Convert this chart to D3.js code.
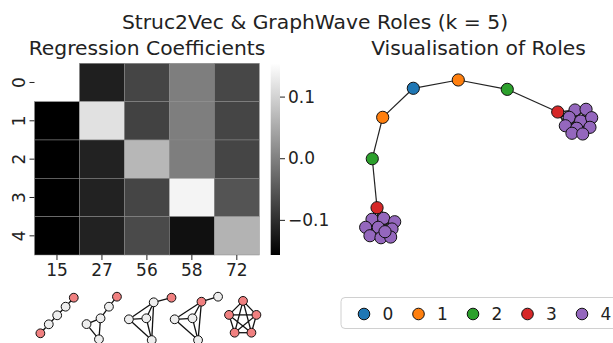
<!DOCTYPE html>
<html>
<head>
<meta charset="utf-8">
<script src="https://cdn.jsdelivr.net/npm/d3@7"></script>
<style>
  body { margin: 0; background: #fff; }
  svg { display: block; font-family: "DejaVu Sans", sans-serif; }
  .tick text { fill: #222; }
  .tick line { stroke: #222; stroke-width: 1; }
</style>
</head>
<body>
<div id="chart"></div>
<script>
// heatmap data: rows = roles, columns = motif ids
const motifs = ['15', '27', '56', '58', '72'];
const roles = ['0', '1', '2', '3', '4'];
const coefRole0 = [null, -0.119, -0.073, -0.003, -0.070];
const coefRole1 = [-0.157, 0.117, -0.077, -0.003, -0.073];
const coefRole2 = [-0.157, -0.116, 0.066, -0.003, -0.073];
const coefRole3 = [-0.157, -0.116, -0.073, 0.140, -0.055];
const coefRole4 = [-0.157, -0.116, -0.067, -0.138, 0.061];
const coefRows = [coefRole0, coefRole1, coefRole2, coefRole3, coefRole4];
const colorbarTicks = [-0.1, 0.0, 0.1];
const colorDomain = [-0.157, 0.154];

// role graph: layout coordinates (spring layout units) and role of each node
const nodeIds = ['a', 'b', 'c', 'd', 'e', 'f', 'g',
  'p0', 'p1', 'p2', 'p3', 'p4', 'p5', 'p6', 'p7', 'p8', 'p9',
  'q0', 'q1', 'q2', 'q3', 'q4', 'q5', 'q6', 'q7', 'q8', 'q9'];
const nodeRole = [0, 1, 1, 2, 2, 3, 3,
  4, 4, 4, 4, 4, 4, 4, 4, 4, 4,
  4, 4, 4, 4, 4, 4, 4, 4, 4, 4];
const layoutX = [-0.524, -0.157, -0.774, 0.243, -0.859, 0.655, -0.820,
  -0.861, -0.766, -0.676, -0.913, -0.810, -0.698, -0.878, -0.788, -0.709, -0.755,
  0.796, 0.886, 0.749, 0.842, 0.932, 0.717, 0.810, 0.918, 0.771, 0.859];
const layoutY = [0.791, 0.886, 0.459, 0.779, -0.014, 0.520, -0.574,
  -0.706, -0.695, -0.734, -0.798, -0.798, -0.817, -0.894, -0.917, -0.909, -0.848,
  0.543, 0.551, 0.459, 0.417, 0.455, 0.363, 0.334, 0.345, 0.277, 0.269];
const chainEdges = [['g', 'e'], ['e', 'c'], ['c', 'a'], ['a', 'b'], ['b', 'd'], ['d', 'f']];
const cliqueP = ['g', 'p0', 'p1', 'p2', 'p3', 'p4', 'p5', 'p6', 'p7', 'p8', 'p9'];
const cliqueQ = ['f', 'q0', 'q1', 'q2', 'q3', 'q4', 'q5', 'q6', 'q7', 'q8', 'q9'];

// small motif drawings under the heatmap (local layout units, y up)
const motif15 = { x: [-0.83, -0.41, 0.01, 0.43, 0.84], y: [-0.74, -0.29, 0.16, 0.59, 1.04],
  hot: [1, 0, 0, 0, 1], edges: [[0, 1], [1, 2], [2, 3], [3, 4]] };
const motif27 = { x: [0.75, 0.35, -0.07, -0.77, -0.15], y: [1.09, 0.59, 0.01, -0.28, -1.04],
  hot: [1, 0, 0, 0, 0], edges: [[0, 1], [1, 2], [2, 3], [2, 4], [3, 4]] };
const motif56 = { x: [0.34, 1.23, -0.90, -0.03, 0.24], y: [0.81, 1.04, -0.04, 0.01, -1.08],
  hot: [0, 1, 0, 0, 0], edges: [[0, 1], [0, 2], [0, 3], [0, 4], [2, 3], [2, 4], [3, 4]] };
const motif58 = { x: [0.48, 1.31, -0.86, 0.03, 0.31], y: [0.84, 1.09, -0.04, 0.01, -1.08],
  hot: [1, 0, 0, 0, 0], edges: [[0, 1], [0, 2], [0, 3], [0, 4], [2, 3], [2, 4], [3, 4]] };
const motif72 = { x: [0.31, -0.39, 0.98, -0.11, 0.73], y: [0.88, 0.18, 0.18, -0.71, -0.71],
  hot: [1, 1, 1, 1, 1], edges: [[0, 1], [0, 2], [0, 3], [0, 4], [1, 2], [1, 3], [1, 4], [2, 3], [2, 4], [3, 4]] };
const motifShapes = [motif15, motif27, motif56, motif58, motif72];

const W = 613, H = 343;
const svg = d3.select('#chart').append('svg').attr('width', W).attr('height', H);

// titles
svg.append('text').attr('x', 315).attr('y', 29).attr('text-anchor', 'middle')
  .attr('font-size', 20.3).attr('fill', '#222').text('Struc2Vec & GraphWave Roles (k = 5)');
svg.append('text').attr('x', 147).attr('y', 55).attr('text-anchor', 'middle')
  .attr('font-size', 20.3).attr('fill', '#222').text('Regression Coefficients');
svg.append('text').attr('x', 478.5).attr('y', 55).attr('text-anchor', 'middle')
  .attr('font-size', 20.3).attr('fill', '#222').text('Visualisation of Roles');

// ---- heatmap ----
const x = d3.scaleBand().domain(motifs).range([34.5, 259.3]);
const y = d3.scaleBand().domain(roles).range([63.3, 255]);
const color = d3.scaleLinear().domain(colorDomain).range(['#000', '#fff']).clamp(true);

const cells = [];
coefRows.forEach((row, i) => row.forEach((v, j) => {
  if (v !== null) cells.push({ role: roles[i], motif: motifs[j], v });
}));

svg.append('g').selectAll('rect').data(cells).enter().append('rect')
  .attr('x', d => x(d.motif))
  .attr('y', d => y(d.role))
  .attr('width', x.bandwidth())
  .attr('height', y.bandwidth())
  .attr('fill', d => color(d.v))
  .attr('stroke', '#8a8a8a')
  .attr('stroke-width', 0.5);

const xAxis = svg.append('g').attr('transform', 'translate(0,255)')
  .call(d3.axisBottom(x).tickSize(5).tickPadding(4));
xAxis.select('.domain').remove();
xAxis.selectAll('text').attr('font-size', 17).attr('font-family', 'DejaVu Sans');

const yAxis = svg.append('g').attr('transform', 'translate(34.5,0)')
  .call(d3.axisLeft(y).tickSize(5));
yAxis.select('.domain').remove();
yAxis.selectAll('text')
  .attr('font-size', 17).attr('font-family', 'DejaVu Sans')
  .attr('x', 0).attr('y', -9.5).attr('dy', 0)
  .attr('text-anchor', 'middle')
  .attr('transform', 'rotate(-90)');

// colorbar
const cb = d3.scaleLinear().domain(colorDomain).range([255, 63.3]);
const grad = svg.append('defs').append('linearGradient').attr('id', 'cbgrad')
  .attr('x1', 0).attr('y1', 1).attr('x2', 0).attr('y2', 0);
grad.append('stop').attr('offset', 0).attr('stop-color', color(colorDomain[0]));
grad.append('stop').attr('offset', 1).attr('stop-color', color(colorDomain[1]));
svg.append('rect').attr('x', 270.7).attr('y', cb(colorDomain[1]))
  .attr('width', 9.3).attr('height', cb(colorDomain[0]) - cb(colorDomain[1]))
  .attr('fill', 'url(#cbgrad)');
const cbAxis = svg.append('g').attr('transform', 'translate(280,0)')
  .call(d3.axisRight(cb).tickValues(colorbarTicks).tickFormat(d3.format('.1f')).tickSize(5).tickPadding(3));
cbAxis.select('.domain').remove();
cbAxis.selectAll('text').attr('font-size', 17).attr('font-family', 'DejaVu Sans');

// motif drawings
const mx = d3.scaleLinear().domain([-1, 1]).range([-20, 20]);
const my = d3.scaleLinear().domain([-1, 1]).range([20, -20]);
const motifG = svg.append('g');
motifShapes.forEach((m, k) => {
  const g = motifG.append('g')
    .attr('transform', `translate(${x(motifs[k]) + x.bandwidth() / 2},318.5)`);
  g.selectAll('line').data(m.edges).enter().append('line')
    .attr('x1', e => mx(m.x[e[0]])).attr('y1', e => my(m.y[e[0]]))
    .attr('x2', e => mx(m.x[e[1]])).attr('y2', e => my(m.y[e[1]]))
    .attr('stroke', '#111').attr('stroke-width', 1.3);
  g.selectAll('circle').data(m.x.map((v, i) => i)).enter().append('circle')
    .attr('cx', i => mx(m.x[i])).attr('cy', i => my(m.y[i])).attr('r', 4.4)
    .attr('fill', i => m.hot[i] ? '#f08080' : '#eeeeee')
    .attr('stroke', '#111').attr('stroke-width', 1);
});

// ---- role graph ----
const gx = d3.scaleLinear().domain([-1, 1]).range([355, 600]);
const gy = d3.scaleLinear().domain([-1, 1]).range([245, 70]);
const roleColor = d3.scaleOrdinal().domain([0, 1, 2, 3, 4]).range(d3.schemeCategory10);
const nodes = nodeIds.map((id, i) => ({ id, role: nodeRole[i], lx: layoutX[i], ly: layoutY[i] }));
const byId = new Map(nodes.map(n => [n.id, n]));
const edges = chainEdges.slice();
[cliqueP, cliqueQ].forEach(cl => {
  for (let i = 0; i < cl.length; i++)
    for (let j = i + 1; j < cl.length; j++) edges.push([cl[i], cl[j]]);
});

svg.append('g').selectAll('line').data(edges).enter().append('line')
  .attr('x1', e => gx(byId.get(e[0]).lx)).attr('y1', e => gy(byId.get(e[0]).ly))
  .attr('x2', e => gx(byId.get(e[1]).lx)).attr('y2', e => gy(byId.get(e[1]).ly))
  .attr('stroke', '#222').attr('stroke-width', 1.2);

svg.append('g').selectAll('circle').data(nodes).enter().append('circle')
  .attr('cx', d => gx(d.lx)).attr('cy', d => gy(d.ly)).attr('r', 6.1)
  .attr('fill', d => roleColor(d.role))
  .attr('stroke', '#111').attr('stroke-width', 1);

// legend
const lx = d3.scalePoint().domain(roles).range([364, 582]);
svg.append('rect').attr('x', 341).attr('y', 297.5).attr('width', 300).attr('height', 31)
  .attr('rx', 4).attr('fill', '#fff').attr('stroke', '#d0d0d0').attr('stroke-width', 1);
const li = svg.append('g').selectAll('g').data(roles).enter().append('g')
  .attr('transform', d => `translate(${lx(d)},314)`);
li.append('circle').attr('r', 5.8).attr('fill', (d, i) => roleColor(i))
  .attr('stroke', '#111').attr('stroke-width', 1);
li.append('text').attr('x', 18.5).attr('y', 6).attr('font-size', 17).attr('fill', '#222').text(d => d);
</script>
</body>
</html>
